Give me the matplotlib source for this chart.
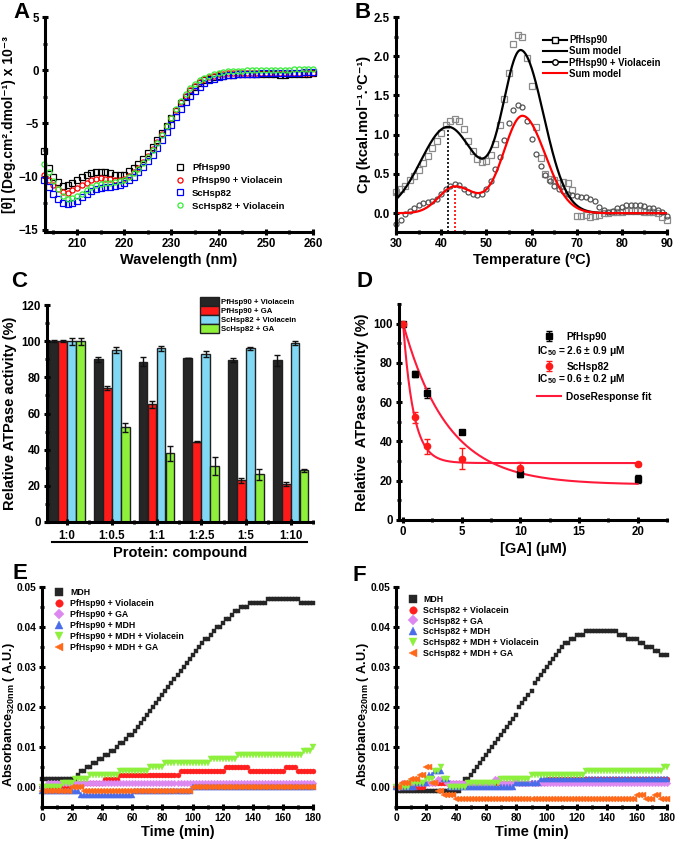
import numpy as np
import matplotlib
matplotlib.use("Agg")
import matplotlib.pyplot as plt
from matplotlib.ticker import MultipleLocator, FormatStrFormatter
from matplotlib.lines import Line2D

plt.rcParams.update({
    'font.family': ['Liberation Sans', 'DejaVu Sans'],
    'font.weight': 'bold',
    'axes.labelweight': 'bold',
    'axes.linewidth': 2.2,
    'mathtext.fontset': 'custom',
    'mathtext.rm': 'Liberation Sans:bold',
    'mathtext.bf': 'Liberation Sans:bold',
    'mathtext.it': 'Liberation Sans:bold',
    'mathtext.default': 'bf',
})

# ---------------- Panel A : CD spectra ----------------
A_wl = list(range(203, 261))
A_pf = [-7.6, -9.2, -10.0, -10.5, -10.85, -10.8, -10.55, -10.3, -10.0, -9.8, -9.65, -9.6, -9.55, -9.6,
        -9.7, -9.8, -9.85, -9.8, -9.5, -9.2, -8.8, -8.3, -7.8, -7.2, -6.6, -5.9, -5.2, -4.5, -3.8, -3.1,
        -2.5, -1.95, -1.55, -1.2, -0.95, -0.8, -0.65, -0.55, -0.5, -0.45, -0.42, -0.4, -0.38, -0.37,
        -0.36, -0.36, -0.36, -0.37, -0.38, -0.4, -0.42, -0.42, -0.4, -0.38, -0.36, -0.34, -0.32, -0.3]
A_pf_viol = [-9.8, -10.3, -10.8, -11.2, -11.45, -11.5, -11.3, -11.05, -10.8, -10.55, -10.35, -10.2, -10.15,
             -10.2, -10.25, -10.3, -10.3, -10.2, -9.95, -9.6, -9.15, -8.65, -8.05, -7.4, -6.7, -5.95, -5.2,
             -4.45, -3.7, -3.0, -2.4, -1.85, -1.45, -1.1, -0.85, -0.65, -0.5, -0.4, -0.35, -0.3, -0.28,
             -0.26, -0.25, -0.24, -0.24, -0.24, -0.25, -0.26, -0.27, -0.28, -0.28, -0.27, -0.26, -0.25,
             -0.24, -0.23, -0.22, -0.22]
A_sc = [-10.3, -11.0, -11.6, -12.1, -12.45, -12.6, -12.5, -12.25, -11.95, -11.65, -11.35, -11.15, -11.05,
        -11.0, -10.95, -10.9, -10.8, -10.6, -10.35, -10.0, -9.6, -9.1, -8.55, -7.95, -7.3, -6.6, -5.85,
        -5.1, -4.35, -3.65, -3.0, -2.45, -1.95, -1.55, -1.2, -0.95, -0.8, -0.65, -0.55, -0.48, -0.43,
        -0.4, -0.37, -0.35, -0.33, -0.31, -0.3, -0.29, -0.28, -0.27, -0.26, -0.25, -0.24, -0.23, -0.22,
        -0.21, -0.2, -0.2]
A_sc_viol = [-8.8, -9.6, -10.4, -11.2, -11.8, -12.1, -12.05, -11.85, -11.6, -11.3, -11.0, -10.8, -10.65,
             -10.6, -10.55, -10.5, -10.45, -10.3, -10.05, -9.7, -9.25, -8.75, -8.15, -7.5, -6.8, -6.05,
             -5.25, -4.45, -3.65, -2.9, -2.25, -1.7, -1.3, -0.95, -0.7, -0.5, -0.35, -0.25, -0.18, -0.12,
             -0.08, -0.05, -0.03, -0.02, -0.01, 0.0, 0.0, 0.01, 0.02, 0.03, 0.04, 0.05, 0.06, 0.07, 0.08,
             0.09, 0.1, 0.1]
A_labels = ['PfHsp90', 'PfHsp90 + Violacein', 'ScHsp82', 'ScHsp82 + Violacein']

# ---------------- Panel B : DSC ----------------
B_T = list(range(30, 91))
B_pf = [0.27, 0.31, 0.35, 0.42, 0.48, 0.55, 0.64, 0.73, 0.83, 0.92, 1.02, 1.12, 1.18, 1.2, 1.17, 1.07,
        0.92, 0.79, 0.69, 0.65, 0.66, 0.74, 0.88, 1.12, 1.45, 1.78, 2.15, 2.27, 2.24, 1.98, 1.62, 1.1,
        0.7, 0.5, 0.43, 0.42, 0.39, 0.4, 0.38, 0.3, -0.04, -0.04, -0.02, -0.05, -0.04, -0.02, 0.0, 0.0,
        0.01, 0.01, 0.02, 0.03, 0.03, 0.03, 0.03, 0.02, 0.02, 0.01, 0.0, -0.05, -0.09]
B_pf_viol = [-0.14, -0.09, -0.01, 0.03, 0.07, 0.1, 0.13, 0.14, 0.15, 0.18, 0.25, 0.31, 0.35, 0.37, 0.36,
             0.31, 0.27, 0.24, 0.23, 0.25, 0.31, 0.41, 0.56, 0.72, 0.93, 1.15, 1.31, 1.38, 1.35, 1.17,
             0.94, 0.76, 0.6, 0.49, 0.41, 0.35, 0.31, 0.28, 0.25, 0.23, 0.22, 0.21, 0.2, 0.18, 0.15,
             0.08, 0.04, 0.02, 0.03, 0.06, 0.08, 0.1, 0.11, 0.11, 0.1, 0.09, 0.07, 0.06, 0.04, 0.01, -0.03]
# sum-model peak parameters: (centre, height, sigma_left, sigma_right)
B_model_pf = [(41.5, 1.10, 6.0, 6.0), (57.7, 2.05, 4.0, 5.0)]
B_model_viol = [(43.0, 0.34, 3.5, 4.5), (58.0, 1.24, 4.2, 5.0)]
B_tm_pf = 41.6
B_tm_viol = 43.1

# ---------------- Panel C : ATPase bars ----------------
C_groups = ['1:0', '1:0.5', '1:1', '1:2.5', '1:5', '1:10']
C_series = ['PfHsp90 + Violacein', 'PfHsp90 + GA', 'ScHsp82 + Violacein', 'ScHsp82 + GA']
C_pf_viol = [100, 90, 88.5, 90.5, 89.5, 89.5]
C_pf_ga = [100, 74, 65, 44.5, 23, 21]
C_sc_viol = [100, 95, 96, 93, 96, 99]
C_sc_ga = [100, 52.5, 38, 31, 26.5, 28.5]
C_pf_viol_err = [0.5, 1.5, 2.5, 0, 1, 3]
C_pf_ga_err = [0.5, 1, 2, 0.5, 1.5, 1]
C_sc_viol_err = [2, 1.5, 1.5, 1.5, 1, 1]
C_sc_ga_err = [2, 2.5, 4, 5, 3, 0.8]

# ---------------- Panel D : GA dose response ----------------
D_ga = [0, 1, 2, 5, 10, 20]
D_pf = [100, 74.5, 64.5, 45, 23.5, 21]
D_pf_err = [0.8, 1.5, 2.5, 1, 1.8, 2]
D_sc = [100, 52.3, 37.5, 31.2, 26.5, 28.3]
D_sc_err = [0.8, 2.8, 3.9, 5.3, 3, 0.7]
# fitted curve parameters (bottom, span, decay constant)
D_fit_pf = (18.0, 82.0, 3.8)
D_fit_sc = (29.0, 71.0, 0.886)

# ---------------- Panel E / F : aggregation ----------------
EF_t = np.arange(0, 181, 2)
E_mdh = ([0.002] * 12 +
         [.003, .004, .004, .005, .005, .006, .006, .007, .007, .008,
          .008, .009, .009, .010, .011, .011, .012, .013, .013, .014,
          .015, .016, .017, .018, .019, .020, .021, .022, .023, .024,
          .025, .026, .027, .028, .029, .030, .031, .032, .033, .034,
          .035, .036, .037, .037, .038, .039, .040, .040, .041, .042,
          .042, .043, .044, .044, .045, .045, .045, .046, .046, .046,
          .046, .046, .046] +
         [0.047] * 11 + [0.046] * 5)
# step (hold) series read as change points: times, values
E_viol_bp = ([0, 2, 20, 42, 52, 92, 122, 138, 162, 170],
             [-0.001, 0.0, 0.001, 0.002, 0.003, 0.004, 0.005, 0.004, 0.005, 0.004])
E_ga_bp = ([0, 4], [0.0, 0.001])
E_mdhp_bp = ([0, 26, 62, 100], [-0.001, -0.002, -0.001, 0.0])
E_mdhviol_bp = ([0, 14, 22, 32, 52, 72, 82, 112, 130, 174, 180],
                [0.0, 0.001, 0.002, 0.003, 0.004, 0.005, 0.006, 0.007, 0.008, 0.009, 0.010])
E_mdhga_bp = ([0, 20, 28, 100], [-0.001, 0.0, -0.001, 0.0])

F_mdh = ([0.0] + [-0.001] * 21 + [0.0] +
         [.002, .002, .003, .004, .005, .006, .007, .008, .009, .010,
          .011, .012, .013, .014, .015, .016, .017, .018, .020, .021,
          .022, .023, .024, .026, .027, .028, .029, .030, .031, .032,
          .033, .034, .035, .036, .036, .037, .037, .038, .038, .038, .039] +
         [0.039] * 10 +
         [.038, .038, .038, .037, .037, .037, .037, .036, .036, .035, .035, .035, .034, .034, .033, .033, .033])
F_viol_bp = ([0, 20, 100], [0.0, 0.001, 0.002])
F_ga_bp = ([0, 4, 28, 34, 66, 70, 80, 82], [0.0, 0.001, 0.002, 0.001, 0.002, 0.001, 0.002, 0.001])
F_mdhp_bp = ([0, 14, 22, 26, 32, 36, 80, 96], [0.0, 0.001, 0.003, 0.004, 0.002, 0.0, 0.001, 0.002])
F_mdhviol_bp = ([0, 10, 20, 26, 30, 32, 36, 48, 70, 90, 126, 178],
                [0.0, 0.001, 0.002, 0.004, 0.005, 0.002, 0.0, 0.001, 0.002, 0.003, 0.004, 0.005])
F_mdhga_bp = ([0, 4, 10, 16, 20, 24, 28, 32, 40, 160, 166, 172, 176],
              [0.0, 0.001, 0.002, 0.003, 0.005, 0.001, -0.001, -0.002, -0.003, -0.002, -0.003, -0.002, -0.003])

E_labels = ['MDH', 'PfHsp90 + Violacein', 'PfHsp90 + GA', 'PfHsp90 + MDH',
            'PfHsp90 + MDH + Violacein', 'PfHsp90 + MDH + GA']
F_labels = ['MDH', 'ScHsp82 + Violacein', 'ScHsp82 + GA', 'ScHsp82 + MDH',
            'ScHsp82 + MDH + Violacein', 'ScHsp82 + MDH + GA']


def hold(bp):
    bt, bv = bp
    idx = np.searchsorted(np.asarray(bt), EF_t, side='right') - 1
    return np.asarray(bv)[idx]


def model(T, peaks):
    T = np.asarray(T, dtype=float)
    y = np.zeros_like(T)
    for c, h, sl, sr in peaks:
        s = np.where(T < c, sl, sr)
        y += h * np.exp(-(T - c) ** 2 / (2 * s ** 2))
    return y


W, H = 678, 842
fig = plt.figure(figsize=(W / 100, H / 100), dpi=100)


def add_ax(l, t, r, b):
    return fig.add_axes([l / W, 1 - b / H, (r - l) / W, (b - t) / H])


def style(ax):
    for s in ['top', 'right']:
        ax.spines[s].set_visible(False)
    ax.tick_params(which='major', direction='inout', length=5, width=2.2, labelsize=8.3, pad=2)
    ax.tick_params(which='minor', direction='inout', length=3.5, width=2)


LBL = 10.5

# ---- A ----
axA = add_ax(45, 17, 313, 232)
style(axA)
for y, c, m, lab in zip([A_pf, A_pf_viol, A_sc, A_sc_viol],
                        ['#000000', '#ff0000', '#0000ff', '#33ee33'],
                        ['s', 'o', 's', 'o'], A_labels):
    axA.plot(A_wl, y, ls='none', marker=m, mfc='none', mec=c, ms=3.7, mew=0.9, label=lab, clip_on=False)
axA.set_xlim(203.2, 260)
axA.set_ylim(-15.2, 5)
axA.xaxis.set_major_locator(MultipleLocator(10))
axA.xaxis.set_minor_locator(MultipleLocator(5))
axA.yaxis.set_major_locator(MultipleLocator(5))
axA.yaxis.set_minor_locator(MultipleLocator(2.5))
axA.set_xlabel('Wavelength (nm)', fontsize=LBL, labelpad=2)
axA.set_ylabel('[θ] (Deg.cm².dmol⁻¹) x 10⁻³', fontsize=10, labelpad=2)
axA.legend(loc='upper left', bbox_to_anchor=(0.485, 0.32), frameon=False, fontsize=6.8,
           handlelength=1.0, handletextpad=0.8, labelspacing=0.4, borderpad=0, borderaxespad=0)

# ---- B ----
axB = add_ax(396, 17, 667, 232)
style(axB)
axB.plot(B_T, B_pf, ls='none', marker='s', mfc='none', mec='#8a8a8a', ms=3.9, mew=0.9, clip_on=False)
axB.plot(B_T, B_pf_viol, ls='none', marker='o', mfc='none', mec='#555555', ms=3.6, mew=0.9, clip_on=False)
Tg = np.linspace(30, 90, 600)
axB.plot(Tg, model(Tg, B_model_pf), color='black', lw=1.6)
axB.plot(Tg, model(Tg, B_model_viol), color='#ff0000', lw=1.6)
axB.set_xlim(30, 90)
axB.set_ylim(-0.24, 2.5)
axB.vlines(B_tm_pf, -0.24, model([B_tm_pf], B_model_pf)[0], colors='black', linestyles=(0, (1.2, 1.2)), lw=1.2)
axB.vlines(B_tm_viol, -0.24, model([B_tm_viol], B_model_viol)[0], colors='#ff0000', linestyles=(0, (1.2, 1.2)), lw=1.2)
axB.xaxis.set_major_locator(MultipleLocator(10))
axB.xaxis.set_minor_locator(MultipleLocator(5))
axB.yaxis.set_major_locator(MultipleLocator(0.5))
axB.yaxis.set_minor_locator(MultipleLocator(0.25))
axB.yaxis.set_major_formatter(FormatStrFormatter('%.1f'))
axB.set_xlabel('Temperature (ºC)', fontsize=LBL, labelpad=2)
axB.set_ylabel('Cp (kcal.mol⁻¹.ºC⁻¹)', fontsize=LBL, labelpad=2)
hB = [Line2D([], [], color='black', lw=1.5, marker='s', mfc='white', mec='black', ms=4),
      Line2D([], [], color='black', lw=1.5),
      Line2D([], [], color='black', lw=1.5, marker='o', mfc='white', mec='black', ms=4),
      Line2D([], [], color='#ff0000', lw=1.5)]
axB.legend(hB, ['PfHsp90', 'Sum model', 'PfHsp90 + Violacein', 'Sum model'], loc='upper left',
           bbox_to_anchor=(0.542, 0.915), frameon=False, fontsize=6.9, handlelength=2.5,
           handletextpad=0.25, labelspacing=0.12, borderpad=0, borderaxespad=0)

# ---- C ----
axC = add_ax(47, 305, 313, 522)
style(axC)
xg = np.arange(1, len(C_groups) + 1)
bw = 0.195
for k, (vals, errs, col, lab) in enumerate(zip([C_pf_viol, C_pf_ga, C_sc_viol, C_sc_ga],
                                               [C_pf_viol_err, C_pf_ga_err, C_sc_viol_err, C_sc_ga_err],
                                               ['#262626', '#ff1a1a', '#80d8f4', '#8ef03a'], C_series)):
    axC.bar(xg + (k - 1.5) * 0.2, vals, bw, color=col, edgecolor='#202020', lw=1.0, label=lab,
            yerr=errs, error_kw=dict(ecolor='#111111', elinewidth=1.0, capsize=2.2, capthick=1.0))
axC.set_xlim(0.55, 6.5)
axC.set_ylim(0, 120)
axC.set_xticks(xg)
axC.set_xticklabels(C_groups)
axC.set_xticks(xg + 0.5, minor=True)
axC.yaxis.set_major_locator(MultipleLocator(20))
axC.yaxis.set_minor_locator(MultipleLocator(10))
axC.tick_params(axis='x', which='major', pad=3)
axC.set_ylabel('Relative ATPase activity (%)', fontsize=LBL, labelpad=3)
axC.set_xlabel('Protein: compound', fontsize=LBL)
axC.xaxis.set_label_coords(0.5, -0.11)
axC.plot([0.02, 0.977], [-0.092, -0.092], transform=axC.transAxes, clip_on=False, color='black', lw=1.5)
axC.legend(loc='upper left', bbox_to_anchor=(0.575, 1.035), frameon=False, fontsize=5.6,
           handlelength=2.4, handleheight=1.35, handletextpad=0.35, labelspacing=0.0,
           borderpad=0, borderaxespad=0)

# ---- D ----
axD = add_ax(399, 304, 667, 520)
style(axD)
axD.errorbar(D_ga, D_pf, yerr=D_pf_err, fmt='s', color='black', ms=4.2, elinewidth=1.0, capsize=2.3,
             capthick=1.0, label='PfHsp90', clip_on=False)
axD.errorbar(D_ga, D_sc, yerr=D_sc_err, fmt='o', color='#ff1a1a', ecolor='#ff1a1a', ms=4.5, elinewidth=1.0,
             capsize=2.3, capthick=1.0, label='ScHsp82', clip_on=False)
xf = np.linspace(0, 20, 400)
b0, a0, t0 = D_fit_pf
axD.plot(xf, b0 + a0 * np.exp(-xf / t0), color='#ff1a3a', lw=1.5, label='DoseResponse fit')
b1, a1, t1 = D_fit_sc
axD.plot(xf, b1 + a1 * np.exp(-xf / t1), color='#ff1a3a', lw=1.5)
axD.set_xlim(-0.35, 22.5)
axD.set_ylim(0, 110)
axD.xaxis.set_major_locator(MultipleLocator(5))
axD.xaxis.set_minor_locator(MultipleLocator(2.5))
axD.yaxis.set_major_locator(MultipleLocator(20))
axD.yaxis.set_minor_locator(MultipleLocator(10))
axD.set_xlabel('[GA] (μM)', fontsize=LBL, labelpad=3)
axD.set_ylabel('Relative  ATPase activity (%)', fontsize=LBL, labelpad=3)
hD, lD = axD.get_legend_handles_labels()
order = [lD.index('PfHsp90'), lD.index('ScHsp82'), lD.index('DoseResponse fit')]
axD.legend([hD[i] for i in order], [lD[i] for i in order], loc='upper left', bbox_to_anchor=(0.515, 0.872),
           frameon=False, fontsize=7.3, handlelength=2.4, handletextpad=0.5, labelspacing=1.98,
           borderpad=0, borderaxespad=0)
axD.text(0.515, 0.784, 'IC$_{50}$ = 2.6 ± 0.9 μM', transform=axD.transAxes, fontsize=7.3,
         fontweight='bold', va='center', ha='left')
axD.text(0.515, 0.653, 'IC$_{50}$ = 0.6 ± 0.2 μM', transform=axD.transAxes, fontsize=7.3,
         fontweight='bold', va='center', ha='left')

# ---- E / F ----
EF_colors = ['#262626', '#ff1f1f', '#dd88f0', '#4a6ce8', '#8cf03c', '#ff6a1a']
EF_markers = ['s', 'o', 'D', '^', 'v', '<']
EF_ms = [3.4, 3.6, 3.4, 3.8, 3.8, 3.8]


def draw_agg(ax, series, labels, leg_anchor):
    style(ax)
    ax.tick_params(which='major', labelsize=7.4, pad=1.5)
    for y, c, m, s, lab in zip(series, EF_colors, EF_markers, EF_ms, labels):
        ax.plot(EF_t, y, ls='none', marker=m, color=c, mec=c, ms=s, mew=0.3, label=lab, clip_on=False)
    ax.set_xlim(-0.3, 180.3)
    ax.set_ylim(-0.005, 0.05)
    ax.xaxis.set_major_locator(MultipleLocator(20))
    ax.xaxis.set_minor_locator(MultipleLocator(10))
    ax.yaxis.set_major_locator(MultipleLocator(0.01))
    ax.yaxis.set_minor_locator(MultipleLocator(0.005))
    ax.yaxis.set_major_formatter(FormatStrFormatter('%.2f'))
    ax.set_xlabel('Time (min)', fontsize=LBL, labelpad=2)
    ax.set_ylabel('Absorbance$_{320nm}$ ( A.U.)', fontsize=9.2, labelpad=0)
    ax.yaxis.set_label_coords(-0.094, 0.42)
    ax.legend(loc='upper left', bbox_to_anchor=leg_anchor, frameon=False, fontsize=6.3,
              handlelength=1.2, handletextpad=0.6, labelspacing=0.22, markerscale=1.5,
              borderpad=0, borderaxespad=0)


axE = add_ax(42, 587, 313, 807)
draw_agg(axE, [E_mdh, hold(E_viol_bp), hold(E_ga_bp), hold(E_mdhp_bp), hold(E_mdhviol_bp), hold(E_mdhga_bp)],
         E_labels, (0.045, 0.995))
axF = add_ax(396, 587, 667, 807)
draw_agg(axF, [F_mdh, hold(F_viol_bp), hold(F_ga_bp), hold(F_mdhp_bp), hold(F_mdhviol_bp), hold(F_mdhga_bp)],
         F_labels, (0.042, 0.965))

# panel letters
for letter, (px, py) in zip('ABCDEF', [(13, 2), (355, 2), (11, 271), (356, 271), (12, 563), (353, 565)]):
    fig.text(px / W, 1 - py / H, letter, fontsize=16, fontweight='bold', va='top', ha='left')

fig.savefig('out.png', dpi=100)
